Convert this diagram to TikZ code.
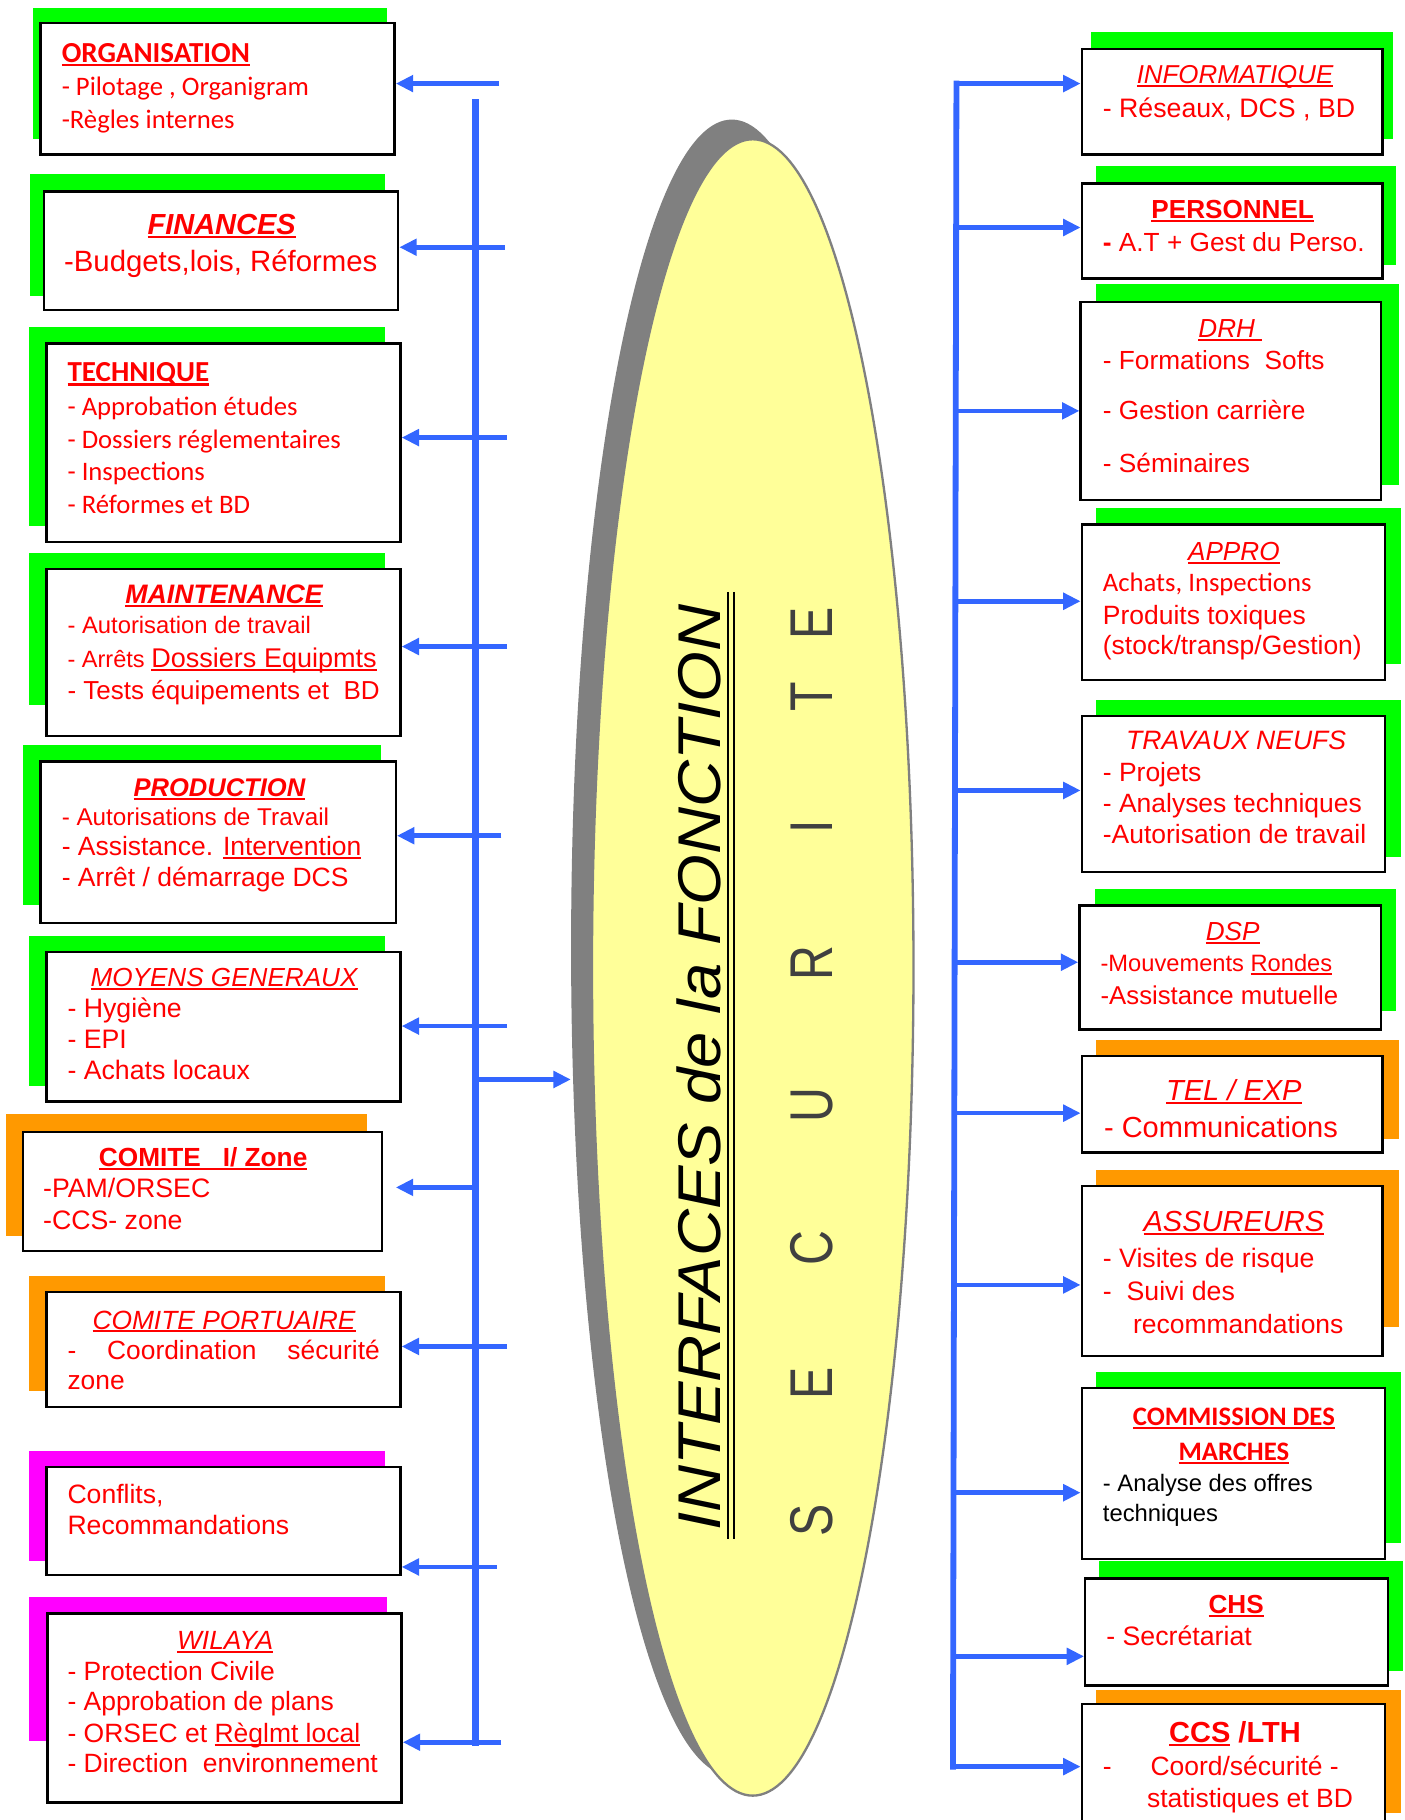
\documentclass[tikz,border=0pt]{standalone}
\usepackage{fontspec}
\usepackage{graphicx}
\setmainfont{Liberation Sans}
\newfontfamily\calfont{Carlito}
\usetikzlibrary{arrows.meta,shapes.geometric,fit}
\definecolor{bl}{HTML}{3366FF}
\definecolor{gr}{HTML}{00FF00}
\definecolor{og}{HTML}{FF9900}
\definecolor{mg}{HTML}{FF00FF}
\definecolor{rd}{HTML}{FF0000}
\definecolor{yl}{HTML}{FFFF99}
\definecolor{gy}{HTML}{808080}
\definecolor{dg}{HTML}{404040}
\newcommand\fa[1]{\fontsize{#1}{#1}\selectfont}
\newcommand\fc[1]{\calfont\fontsize{#1}{#1}\selectfont}
\newcommand\uln[1]{\setbox0\hbox{#1}\rlap{\rule[-0.13em]{\wd0}{0.075em}}\box0\relax}
\begin{document}
\begin{tikzpicture}[x=1pt,y=-1pt,
 bx/.style={draw=black, line width=2pt, fill=white, inner sep=0pt},
 tl/.style={anchor=base west, inner sep=0pt, text=rd},
 tc/.style={anchor=base, inner sep=0pt, text=rd},
 conn/.style={draw=bl, line width=4pt, -{Triangle[length=15pt,width=14pt]}},
 bus/.style={draw=bl, line width=6pt, line cap=rect}]
\useasboundingbox (0,0) rectangle (1210,1568);

% ---------- ellipse ----------
\node[ellipse, fill=gy, inner sep=0pt, minimum width=277, minimum height=1427] (ellsh) at (630.5,816.5) {};
\node[ellipse, fill=yl, draw=gy, line width=2pt, inner sep=0pt, minimum width=277, minimum height=1427] (ell) at (648.5,833.5) {};
\node[rotate=90, anchor=base, inner sep=0pt, font=\fa{52}\itshape] (title) at (621,920) {\scalebox{1.08}[1]{INTERFACES de la FONCTION}};
\draw[line width=2pt] (627,510) -- (627,1326) (632.5,510) -- (632.5,1326);
\foreach \n/\l/\yy in {s1/S/1310, s2/E/1192, s3/C/1075, s4/U/952, s5/R/830, s6/I/712, s7/T/600, s8/E/537}
  \node[rotate=90, anchor=base, inner sep=0pt, text=dg, font=\fa{52}] (\n) at (717,\yy) {\scalebox{0.8}[1]{\l}};

% ---------- left column ----------
\fill[gr] (28,7) rectangle (333,120);
\node[bx, fit={(35,20)(340,133)}] (org) {};
\node[tl, font=\fc{25}\bfseries] (orgT) at (53,54) {\uln{ORGANISATION}};
\node[tl, font=\fc{23}] (org1) at (53,82) {- Pilotage , Organigram};
\node[tl, font=\fc{23}] (org2) at (53,111) {-Règles internes};

\fill[gr] (26,150) rectangle (332,255);
\node[bx, fit={(38,165)(343,267)}] (fin) {};
\node[tc, font=\fa{25}\bfseries\itshape] (finT) at (191,202) {\uln{FINANCES}};
\node[tl, font=\fa{25.3}] (fin1) at (55,234) {-Budgets,lois, Réformes};

\fill[gr] (25,282) rectangle (332,453);
\node[bx, fit={(40,296)(345,467)}] (tech) {};
\node[tl, font=\fc{25}\bfseries] (techT) at (58,329) {\uln{TECHNIQUE}};
\node[tl, font=\fc{23}] (tech1) at (58,358) {- Approbation études};
\node[tl, font=\fc{23}] (tech2) at (58,386) {- Dossiers réglementaires};
\node[tl, font=\fc{23}] (tech3) at (58,414) {- Inspections};
\node[tl, font=\fc{23}] (tech4) at (58,442) {- Réformes et BD};

\fill[gr] (25,476) rectangle (332,607);
\node[bx, fit={(40,490)(345,634)}] (maint) {};
\node[tc, font=\fa{23}\bfseries\itshape] (maintT) at (193,520) {\uln{MAINTENANCE}};
\node[tl, font=\fa{20.5}] (maint1) at (58,546) {- Autorisation de travail};
\node[tl, font=\fa{20.3}] (maint2) at (58,575) {- Arrêts {\fa{23.3}\uln{Dossiers Equipmts}}};
\node[tl, font=\fa{22.4}] (maint3) at (58,603) {- Tests équipements et~~BD};

\fill[gr] (20,642) rectangle (328,780);
\node[bx, fit={(35,656)(341,795)}] (prod) {};
\node[tc, font=\fa{22}\bfseries\itshape] (prodT) at (189,686) {\uln{PRODUCTION}};
\node[tl, font=\fa{20.9}] (prod1) at (53,711) {- Autorisations de Travail};
\node[tl, font=\fa{22.8}] (prod2) at (53,737) {- Assistance. \uln{Intervention}};
\node[tl, font=\fa{22.8}] (prod3) at (53,764) {- Arrêt / démarrage DCS};

\fill[gr] (25,806) rectangle (332,936);
\node[bx, fit={(40,820)(345,949)}] (moy) {};
\node[tc, font=\fa{22.5}\itshape] (moyT) at (193,850) {\uln{MOYENS GENERAUX}};
\node[tl, font=\fa{23}] (moy1) at (58,877) {- Hygiène};
\node[tl, font=\fa{23}] (moy2) at (58,903) {- EPI};
\node[tl, font=\fa{23}] (moy3) at (58,930) {- Achats locaux};

\fill[og] (5,960) rectangle (316,1065);
\node[bx, fit={(20,975)(329,1078)}] (cz) {};
\node[tc, font=\fa{22.6}\bfseries] (czT) at (175,1005) {\uln{COMITE~~~I/ Zone}};
\node[tl, font=\fa{23}] (cz1) at (37,1032) {-PAM/ORSEC};
\node[tl, font=\fa{23}] (cz2) at (37,1059) {-CCS- zone};

\fill[og] (25,1099) rectangle (332,1198);
\node[bx, fit={(40,1113)(345,1212)}] (cp) {};
\node[tc, font=\fa{22.7}\itshape] (cpT) at (193,1145) {\uln{COMITE PORTUAIRE}};
\node[tl, font=\fa{22.7}] (cp1) at (58,1171) {\hbox to 269pt{-\hfill Coordination\hfill sécurité}};
\node[tl, font=\fa{22.7}] (cp2) at (58,1197) {zone};

\fill[mg] (25,1250) rectangle (332,1345);
\node[bx, fit={(40,1264)(345,1357)}] (conf) {};
\node[tl, font=\fa{22.9}] (conf1) at (58,1295) {Conflits,};
\node[tl, font=\fa{22.9}] (conf2) at (58,1322) {Recommandations};

\fill[mg] (25,1376) rectangle (333,1500);
\node[bx, fit={(41,1390)(346,1553)}] (wil) {};
\node[tc, font=\fa{22.7}\itshape] (wilT) at (194,1421) {\uln{WILAYA}};
\node[tl, font=\fa{22.8}] (wil1) at (58,1448) {- Protection Civile};
\node[tl, font=\fa{22.8}] (wil2) at (58,1474) {- Approbation de plans};
\node[tl, font=\fa{22.8}] (wil3) at (58,1501) {- ORSEC et \uln{Règlmt local}};
\node[tl, font=\fa{22.8}] (wil4) at (58,1527) {- Direction~~environnement};

% left bus and arrows
\coordinate (lbt) at (410,88);
\coordinate (lbb) at (410,1501);
\draw[bus] (lbt) -- (lbb);
\coordinate (a1) at (430,72);   \draw[conn] (a1) -- (a1 -| org.east);
\coordinate (a2) at (435,213);  \draw[conn] (a2) -- (a2 -| fin.east);
\coordinate (a3) at (437,377);  \draw[conn] (a3) -- (a3 -| tech.east);
\coordinate (a4) at (437,557);  \draw[conn] (a4) -- (a4 -| maint.east);
\coordinate (a5) at (432,720);  \draw[conn] (a5) -- (a5 -| prod.east);
\coordinate (a6) at (437,884);  \draw[conn] (a6) -- (a6 -| moy.east);
\coordinate (a7) at (410,1023); \draw[conn, shorten >=11pt] (a7) -- (a7 -| cz.east);
\coordinate (a8) at (437,1160); \draw[conn] (a8) -- (a8 -| cp.east);
\coordinate (a9) at (428,1350); \draw[conn] (a9) -- (a9 -| conf.east);
\coordinate (a10) at (432,1501); \draw[conn] (a10) -- (a10 -| wil.east);
\coordinate (aE) at (410,930);  \draw[conn] (aE) -- (aE -| ellsh.west);

% ---------- right column ----------
\fill[gr] (940,28) rectangle (1200,120);
\node[bx, fit={(932,42)(1191,133)}] (info) {};
\node[tc, font=\fa{22.3}\itshape] (infoT) at (1064,72) {\uln{INFORMATIQUE}};
\node[tl, font=\fa{23}] (info1) at (950,101) {- Réseaux, DCS , BD};

\fill[gr] (944,143) rectangle (1203,228);
\node[bx, fit={(932,158)(1191,240)}] (pers) {};
\node[tc, font=\fa{22.5}\bfseries] (persT) at (1062,188) {\uln{PERSONNEL}};
\node[tl, font=\fa{22.6}] (pers1) at (950,217) {\textbf{-} A.T + Gest du Perso.};

\fill[gr] (944,245) rectangle (1205,418);
\node[bx, fit={(931,260)(1190,431)}] (drh) {};
\node[tc, font=\fa{22.5}\itshape] (drhT) at (1060,291) {\uln{DRH\ }};
\node[tl, font=\fa{22.6}] (drh1) at (950,318) {- Formations~~Softs};
\node[tl, font=\fa{22.6}] (drh2) at (950,361) {- Gestion carrière};
\node[tl, font=\fa{22.6}] (drh3) at (950,407) {- Séminaires};

\fill[gr] (944,438) rectangle (1207,572);
\node[bx, fit={(932,452)(1193,586)}] (appro) {};
\node[tc, font=\fa{22.5}\itshape] (approT) at (1063,483) {\uln{APPRO}};
\node[tl, font=\fc{23}] (appro1) at (950,510) {Achats, Inspections};
\node[tl, font=\fa{22.8}] (appro2) at (950,538) {Produits toxiques};
\node[tl, font=\fa{22.8}] (appro3) at (950,564) {(stock/transp/Gestion)};

\fill[gr] (944,603) rectangle (1207,738);
\node[bx, fit={(932,617)(1193,751)}] (trav) {};
\node[tc, font=\fa{22.9}\itshape] (travT) at (1065,646) {TRAVAUX NEUFS};
\node[tl, font=\fa{22.8}] (trav1) at (950,673) {- Projets};
\node[tl, font=\fa{22.8}] (trav2) at (950,700) {- Analyses techniques};
\node[tl, font=\fa{22.8}] (trav3) at (950,727) {-Autorisation de travail};

\fill[gr] (943,766) rectangle (1203,871);
\node[bx, fit={(930,780)(1190,887)}] (dsp) {};
\node[tc, font=\fa{22.5}\itshape] (dspT) at (1062,810) {\uln{DSP}};
\node[tl, font=\fa{20.4}] (dsp1) at (948,837) {-Mouvements \uln{Rondes}};
\node[tl, font=\fa{22.2}] (dsp2) at (948,865) {-Assistance mutuelle};

\fill[og] (944,896) rectangle (1205,981);
\node[bx, fit={(932,910)(1191,993)}] (tel) {};
\node[tc, font=\fa{25}\itshape] (telT) at (1063,948) {\uln{TEL / EXP}};
\node[tl, font=\fa{25}] (tel1) at (951,980) {- Communications};

\fill[og] (944,1008) rectangle (1205,1143);
\node[bx, fit={(932,1022)(1191,1168)}] (ass) {};
\node[tc, font=\fa{25}\itshape] (assT) at (1063,1061) {\uln{ASSUREURS}};
\node[tl, font=\fa{23}] (ass1) at (950,1092) {- Visites de risque};
\node[tl, font=\fa{23}] (ass2) at (950,1120) {-~~Suivi des};
\node[tl, font=\fa{22.8}] (ass3) at (976,1149) {recommandations};

\fill[gr] (944,1182) rectangle (1207,1329);
\node[bx, fit={(932,1196)(1193,1343)}] (com) {};
\node[tc, font=\fc{23}\bfseries] (comT1) at (1063,1228) {\uln{COMMISSION DES}};
\node[tc, font=\fc{23}\bfseries] (comT2) at (1063,1258) {\uln{MARCHES}};
\node[tl, font=\fa{20.5}, text=black] (com1) at (950,1285) {- Analyse des offres};
\node[tl, font=\fa{20.5}, text=black] (com2) at (950,1311) {techniques};

\fill[gr] (947,1345) rectangle (1209,1440);
\node[bx, fit={(935,1360)(1196,1452)}] (chs) {};
\node[tc, font=\fa{22.5}\bfseries] (chsT) at (1065,1390) {\uln{CHS}};
\node[tl, font=\fa{23}] (chs1) at (953,1418) {- Secrétariat};

\fill[og] (944,1456) rectangle (1207,1562);
\node[bx, fit={(932,1468)(1193,1580)}] (ccs) {};
\node[tc, font=\fa{25}\bfseries] (ccsT) at (1064,1501) {\uln{CCS} /LTH};
\node[tl, font=\fa{22.8}] (ccs0) at (950,1530) {-};
\node[tl, font=\fa{22.8}] (ccs1) at (991,1530) {Coord/sécurité -};
\node[tl, font=\fa{22.8}] (ccs2) at (988,1557) {statistiques et BD};

% right bus and arrows
\coordinate (rbt) at (824,72);
\coordinate (rbb) at (821,1522);
\draw[draw=bl, line width=5pt, line cap=rect] (rbt) -- (rbb);
\draw[conn] (rbt) -- (rbt -| info.west);
\coordinate (r2) at (824,196);  \draw[conn] (r2) -- (r2 -| pers.west);
\coordinate (r3) at (824,354);  \draw[conn] (r3) -- (r3 -| drh.west);
\coordinate (r4) at (824,518);  \draw[conn] (r4) -- (r4 -| appro.west);
\coordinate (r5) at (823,681);  \draw[conn] (r5) -- (r5 -| trav.west);
\coordinate (r6) at (823,829);  \draw[conn] (r6) -- (r6 -| dsp.west);
\coordinate (r7) at (823,959);  \draw[conn] (r7) -- (r7 -| tel.west);
\coordinate (r8) at (822,1107); \draw[conn] (r8) -- (r8 -| ass.west);
\coordinate (r9) at (822,1286); \draw[conn] (r9) -- (r9 -| com.west);
\coordinate (r10) at (821,1427); \draw[conn] (r10) -- (r10 -| chs.west);
\draw[conn] (rbb) -- (rbb -| ccs.west);
\end{tikzpicture}
\end{document}
